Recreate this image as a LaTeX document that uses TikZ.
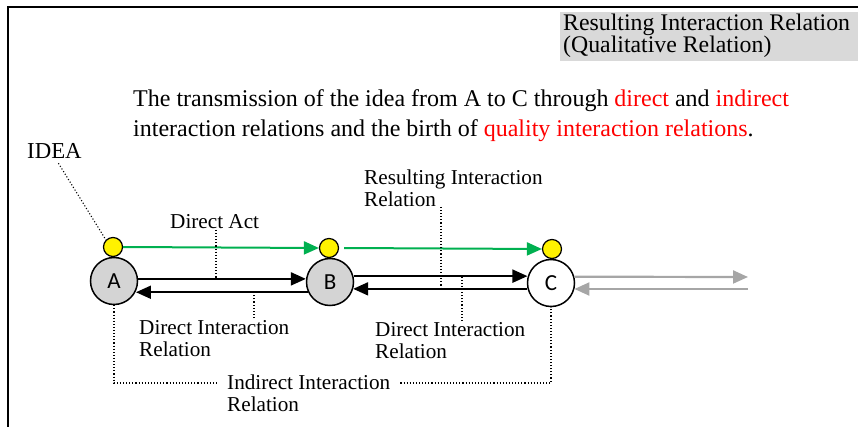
\documentclass[tikz,border=0pt]{standalone}
\usepackage{fontspec}
\setmainfont{Liberation Serif}
\newfontfamily\carl{Carlito}
\usetikzlibrary{arrows.meta}
\definecolor{grn}{RGB}{0,176,80}
\definecolor{gry}{RGB}{166,166,166}
\definecolor{boxg}{RGB}{217,217,217}
\definecolor{redt}{RGB}{255,0,0}
\begin{document}
\begin{tikzpicture}[x=1pt,y=-1pt,
  big/.style={circle,draw,line width=1.5pt,minimum size=47pt,inner sep=0pt,font=\carl\fontsize{23}{23}\selectfont},
  ydot/.style={circle,draw,line width=1.2pt,fill=yellow,minimum size=19pt,inner sep=0pt},
  lbl/.style={font=\fontsize{21.2}{22}\selectfont,align=left,inner sep=0pt,anchor=base west},
  dotl/.style={dotted,line width=1.1pt},
  tip/.style={-{Triangle[length=15pt,width=13pt]}},
  blk/.style={line width=2pt,tip},
  grnar/.style={line width=2pt,draw=grn,-{Triangle[length=15pt,width=13pt,fill=grn]}},
  gryar/.style={line width=2.2pt,draw=gry,-{Triangle[length=15pt,width=13pt,fill=gry]}}]
\useasboundingbox (0,0) rectangle (858,427);
% frame
\draw[line width=1.5pt] (8,427) -- (8,7) -- (858,7);
% title box
\fill[boxg] (560,12) rectangle (858,61);
\node[lbl,font=\fontsize{23.8}{22}\selectfont] (title) at (563,53) {Resulting Interaction Relation\\(Qualitative Relation)};
% main caption
\node[lbl,font=\fontsize{24}{30}\selectfont] (cap) at (133,137) {The transmission of the idea from A to C through \textcolor{redt}{direct} and \textcolor{redt}{indirect}\\interaction relations and the birth of \textcolor{redt}{quality interaction relations}.};
% labels
\node[lbl,font=\fontsize{22.8}{22}\selectfont] (idea) at (27,159) {IDEA};
\node[lbl] (res) at (364,207) {Resulting Interaction\\Relation};
\node[lbl] (act) at (170,229) {Direct Act};
\node[lbl] (dab) at (139,356) {Direct Interaction\\Relation};
\node[lbl] (dbc) at (375,358) {Direct Interaction\\Relation};
\node[lbl] (ind) at (227,411) {Indirect Interaction\\Relation};
% agents
\node[big,fill=black!17] (A) at (114,281) {A};
\node[big,fill=black!17] (B) at (330,282) {B};
\node[big,fill=white] (C) at (551,283) {C};
\node[ydot] (yA) at (113,247) {};
\node[ydot] (yB) at (329,248) {};
\node[ydot] (yC) at (552,249) {};
% green direct acts
\draw[grnar] (yA.east) -- (yB.west);
\draw[grnar] ([xshift=5pt]yB.east) -- (yC.west);
% black interaction arrows
\draw[blk] (A.5) -- (A.5 -| B.175);
\draw[blk] (B.205) -- (B.205 -| A.335);
\draw[blk] (B.14) -- (B.14 -| C.166);
\draw[blk] (C.194) -- (C.194 -| B.343);
% gray arrows
\coordinate (g1) at (748,277);
\coordinate (g2) at (748,289);
\draw[gryar] (C.15) -- (g1);
\draw[gryar] (g2) -- (g2 -| C.345);
% dotted leaders
\draw[dotl] ([xshift=4pt,yshift=-4pt]idea.south) -- (yA.135);
\coordinate (actb) at (216,230);
\draw[dotl] (actb) -- (actb |- A.5);
\coordinate (dabt) at (254,318);
\draw[dotl] (dabt) -- (dabt |- B.205);
\coordinate (rest) at (441,207);
\draw[dotl] (rest) -- (rest |- C.194);
\coordinate (dbct) at (462,321);
\draw[dotl] (dbct) -- (dbct |- C.166);
\coordinate (i1) at (114,383);
\coordinate (i2) at (551,383);
\draw[dotl] (A.south) -- (i1) -- ([xshift=-10pt]ind.west |- i1);
\draw[dotl] ([xshift=10pt]ind.east |- i2) -- (i2) -- (C.south);
\end{tikzpicture}
\end{document}
